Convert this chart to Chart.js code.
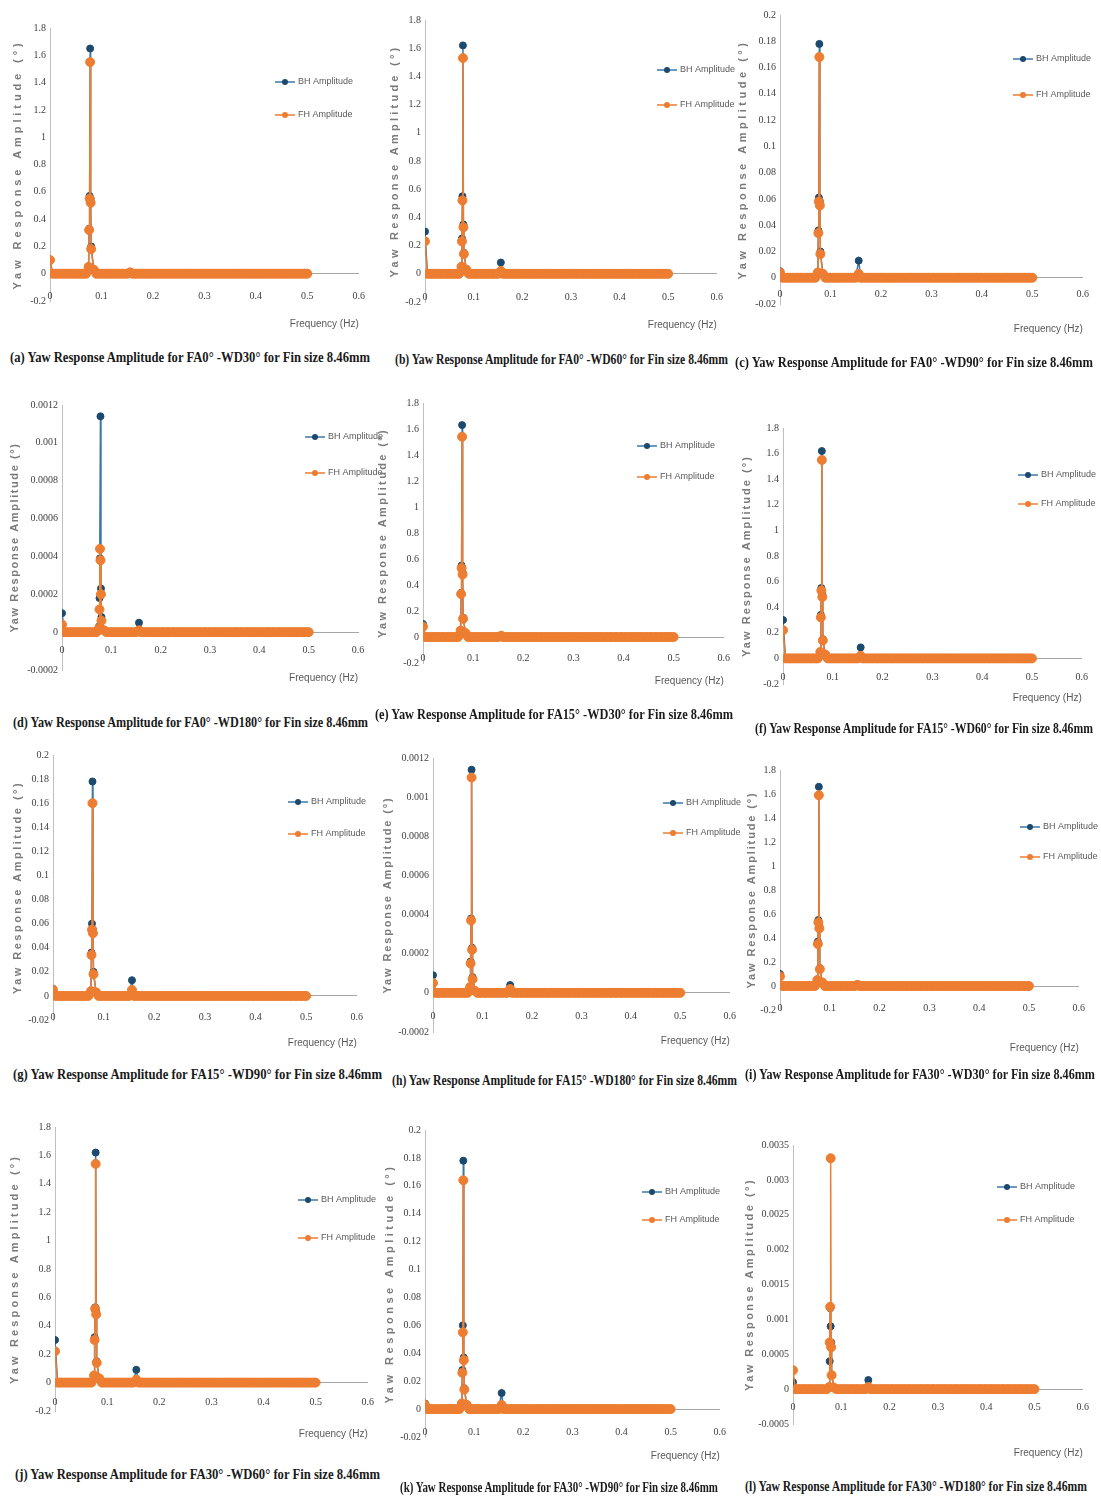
<!DOCTYPE html>
<html><head><meta charset="utf-8">
<script src="https://cdn.jsdelivr.net/npm/chart.js@4.4.1/dist/chart.umd.min.js"></script>
<style>
html,body{margin:0;padding:0;background:#fff;}
body{width:1101px;height:1499px;position:relative;overflow:hidden;}
canvas{position:absolute;}
.cap{position:absolute;white-space:nowrap;font-family:'Liberation Serif','Times New Roman',serif;font-weight:bold;font-size:15px;line-height:18px;color:#1a1a1a;transform-origin:0 50%;}
</style></head><body>
<script>
// ---------------- DATA ----------------
// Frequencies (Hz) of the resolved points around the resonance / harmonic
const peakFreq = [0, 0.075, 0.076, 0.077, 0.078, 0.079, 0.08, 0.085, 0.156];
// Frequencies (Hz) of the flat spectrum floor (amplitude ~ 0 at the picture's resolution)
const floorFreq = [
  0.005,0.01,0.015,0.02,0.025,0.03,0.035,0.04,0.045,0.05,0.055,0.06,0.065,0.07,
  0.09,0.095,0.1,0.105,0.11,0.115,0.12,0.125,0.13,0.135,0.14,0.145,0.15,
  0.16,0.165,0.17,0.175,0.18,0.185,0.19,0.195,0.2,0.205,0.21,0.215,0.22,0.225,0.23,0.235,0.24,0.245,0.25,0.255,
  0.26,0.265,0.27,0.275,0.28,0.285,0.29,0.295,0.3,0.305,0.31,0.315,0.32,0.325,0.33,0.335,0.34,
  0.345,0.35,0.355,0.36,0.365,0.37,0.375,0.38,0.385,0.39,0.395,0.4,0.405,0.41,0.415,0.42,0.425,0.43,0.435,0.44,
  0.445,0.45,0.455,0.46,0.465,0.47,0.475,0.48,0.485,0.49,0.495,0.5
];
const floorAmp = [
  0,0,0,0,0,0,0,0,0,0,0,0,
  0,0,0,0,0,0,0,0,0,0,0,0,
  0,0,0,0,0,0,0,0,0,0,0,0,
  0,0,0,0,0,0,0,0,0,0,0,0,
  0,0,0,0,0,0,0,0,0,0,0,0,
  0,0,0,0,0,0,0,0,0,0,0,0,
  0,0,0,0,0,0,0,0,0,0,0,0,
  0,0,0,0,0,0,0,0,0,0,0,0
];
// Peak-region amplitudes (°) at peakFreq, per panel
const aBH = [0.1, 0.05, 0.33, 0.57, 1.65, 0.55, 0.2, 0.03, 0.01];
const aFH = [0.1, 0.05, 0.32, 0.55, 1.55, 0.52, 0.18, 0.03, 0.01];
const bBH = [0.3, 0.05, 0.25, 0.55, 1.62, 0.35, 0.15, 0.03, 0.08];
const bFH = [0.23, 0.05, 0.23, 0.52, 1.53, 0.33, 0.14, 0.03, 0.02];
const cBH = [0.005, 0.004, 0.036, 0.061, 0.178, 0.058, 0.02, 0.003, 0.013];
const cFH = [0.004, 0.004, 0.034, 0.058, 0.168, 0.055, 0.018, 0.003, 0.003];
const dBH = [0.0001, 0.00003, 0.00018, 0.00039, 0.00114, 0.00023, 0.00008, 0.00001, 0.00005];
const dFH = [0.00004, 0.00002, 0.00012, 0.00044, 0.00038, 0.0002, 0.00006, 0.00001, 0.00001];
const eBH = [0.1, 0.05, 0.34, 0.55, 1.63, 0.5, 0.15, 0.03, 0.01];
const eFH = [0.08, 0.05, 0.33, 0.53, 1.54, 0.48, 0.14, 0.03, 0.01];
const fBH = [0.3, 0.05, 0.34, 0.55, 1.62, 0.5, 0.15, 0.03, 0.086];
const fFH = [0.22, 0.05, 0.32, 0.53, 1.55, 0.48, 0.14, 0.03, 0.02];
const gBH = [0.006, 0.004, 0.036, 0.06, 0.178, 0.055, 0.02, 0.003, 0.013];
const gFH = [0.005, 0.004, 0.034, 0.055, 0.16, 0.052, 0.018, 0.003, 0.005];
const hBH = [0.00009, 0.00003, 0.00016, 0.00038, 0.00114, 0.00023, 0.00008, 0.00001, 0.00004];
const hFH = [0.00005, 0.00003, 0.00015, 0.00037, 0.0011, 0.00022, 0.00007, 0.00001, 0.00002];
const iBH = [0.1, 0.05, 0.37, 0.55, 1.66, 0.5, 0.15, 0.03, 0.01];
const iFH = [0.08, 0.05, 0.35, 0.53, 1.59, 0.48, 0.14, 0.03, 0.01];
const jBH = [0.3, 0.05, 0.32, 0.53, 1.62, 0.5, 0.15, 0.03, 0.09];
const jFH = [0.22, 0.05, 0.3, 0.52, 1.54, 0.48, 0.14, 0.03, 0.02];
const kBH = [0.004, 0.004, 0.028, 0.06, 0.178, 0.037, 0.015, 0.003, 0.0115];
const kFH = [0.003, 0.004, 0.026, 0.055, 0.164, 0.035, 0.014, 0.003, 0.003];
const lBH = [0.0001, 0.00003, 0.0004, 0.00116, 0.0009, 0.00067, 0.0002, 0.00002, 0.00013];
const lFH = [0.00027, 0.00003, 0.00067, 0.00118, 0.00331, 0.0006, 0.0002, 0.00002, 0.00003];

const seriesLabels = ['BH Amplitude', 'FH Amplitude'];
const yMin  = [-0.2, -0.2, -0.02, -0.0002, -0.2, -0.2, -0.02, -0.0002, -0.2, -0.2, -0.02, -0.0005];
const yMax  = [1.8, 1.8, 0.2, 0.0012, 1.8, 1.8, 0.2, 0.0012, 1.8, 1.8, 0.2, 0.0035];
const yStep = [0.2, 0.2, 0.02, 0.0002, 0.2, 0.2, 0.02, 0.0002, 0.2, 0.2, 0.02, 0.0005];
const xMin = 0, xMax = 0.6, xStep = 0.1;
const yTitle = 'Yaw Response Amplitude (°)';
const xTitle = 'Frequency (Hz)';
const captions = [
  '(a) Yaw Response Amplitude for FA0° -WD30° for Fin size 8.46mm',
  '(b) Yaw Response Amplitude for FA0° -WD60° for Fin size 8.46mm',
  '(c) Yaw Response Amplitude for FA0° -WD90° for Fin size 8.46mm',
  '(d) Yaw Response Amplitude for FA0° -WD180° for Fin size 8.46mm',
  '(e) Yaw Response Amplitude for FA15° -WD30° for Fin size 8.46mm',
  '(f) Yaw Response Amplitude for FA15° -WD60° for Fin size 8.46mm',
  '(g) Yaw Response Amplitude for FA15° -WD90° for Fin size 8.46mm',
  '(h) Yaw Response Amplitude for FA15° -WD180° for Fin size 8.46mm',
  '(i) Yaw Response Amplitude for FA30° -WD30° for Fin size 8.46mm',
  '(j) Yaw Response Amplitude for FA30° -WD60° for Fin size 8.46mm',
  '(k) Yaw Response Amplitude for FA30° -WD90° for Fin size 8.46mm',
  '(l) Yaw Response Amplitude for FA30° -WD180° for Fin size 8.46mm'
];
const panelSeries = [[aBH,aFH],[bBH,bFH],[cBH,cFH],[dBH,dFH],[eBH,eFH],[fBH,fFH],
                     [gBH,gFH],[hBH,hFH],[iBH,iFH],[jBH,jFH],[kBH,kFH],[lBH,lFH]];

// ---------------- LAYOUT (page pixels) ----------------
const layout = [
  {L:50,  R:368,  T:28,   B:301,  tx:18,  tlen:250, fy:323,  tp:17, lx:275,  ly:[82,115],    cap:[10,370,357]},
  {L:425, R:719,  T:20,   B:302,  tx:395, tlen:233, fy:324,  tp:18, lx:657,  ly:[70,105],    cap:[395,728,359]},
  {L:780, R:1086, T:15,   B:304,  tx:743, tlen:240, fy:328,  tp:11, lx:1013, ly:[59,95],     cap:[735,1093,362]},
  {L:62,  R:358,  T:405,  B:670,  tx:15,  tlen:190, fy:677,  tp:12, lx:305,  ly:[437,473],   cap:[13,368,722]},
  {L:423, R:731,  T:403,  B:663,  tx:383, tlen:210, fy:680,  tp:15, lx:637,  ly:[446,477],   cap:[375,733,714]},
  {L:783, R:1087, T:428,  B:684,  tx:747, tlen:202, fy:697,  tp:13, lx:1018, ly:[475,504],   cap:[755,1093,728]},
  {L:53,  R:364,  T:755,  B:1020, tx:18,  tlen:213, fy:1042, tp:15, lx:288,  ly:[802,834],   cap:[13,382,1074]},
  {L:433, R:740,  T:758,  B:1032, tx:388, tlen:197, fy:1040, tp:18, lx:663,  ly:[803,833],   cap:[392,737,1080]},
  {L:780, R:1087, T:770,  B:1010, tx:752, tlen:197, fy:1047, tp:16, lx:1020, ly:[827,857],   cap:[745,1095,1074]},
  {L:55,  R:374,  T:1127, B:1411, tx:15,  tlen:230, fy:1433, tp:14, lx:298,  ly:[1200,1238], cap:[15,380,1474]},
  {L:425, R:729,  T:1130, B:1437, tx:390, tlen:240, fy:1455, tp:17, lx:642,  ly:[1192,1220], cap:[400,718,1487]},
  {L:793, R:1087, T:1145, B:1424, tx:750, tlen:213, fy:1452, tp:12, lx:997,  ly:[1187,1220], cap:[745,1087,1486]}
];

const BH_LINE = '#3a78a8', BH_MARK = '#1c4a6e', FH_COL = '#ed7d31';
const TITLE_FONT = {family: "'Liberation Sans', Arial, sans-serif", size: 11, weight: 'bold'};
const fmt = v => String(Math.round(v * 1e6) / 1e6);

function buildSeries(vals) {
  const pts = floorFreq.map((f, i) => ({x: f, y: floorAmp[i]}))
    .concat(peakFreq.map((f, i) => ({x: f, y: vals[i]})));
  return pts.sort((p, q) => p.x - q.x);
}

const panelDecor = {
  id: 'panelDecor',
  beforeDraw(chart, args, o) {
    const ctx = chart.ctx;
    ctx.save();
    ctx.font = `bold ${TITLE_FONT.size}px ${TITLE_FONT.family}`;
    const w = ctx.measureText(yTitle).width;
    ctx.restore();
    const s = Math.max(0, (o.tlen - w) / yTitle.length);
    ctx.letterSpacing = s.toFixed(2) + 'px';
  },
  beforeDatasetsDraw(chart) { chart.ctx.letterSpacing = '0px'; },
  afterDraw(chart, args, o) {
    const ctx = chart.ctx;
    ctx.save();
    ctx.letterSpacing = '0px';
    chart.data.datasets.forEach((ds, i) => {
      const x = o.x, y = o.ys[i];
      ctx.strokeStyle = ds.borderColor; ctx.lineWidth = 1.5;
      ctx.beginPath(); ctx.moveTo(x, y); ctx.lineTo(x + 20, y); ctx.stroke();
      ctx.fillStyle = ds.pointBackgroundColor;
      ctx.beginPath(); ctx.arc(x + 10, y, 3, 0, Math.PI * 2); ctx.fill();
      ctx.fillStyle = '#595959';
      ctx.font = "9px 'Liberation Sans', Arial, sans-serif";
      ctx.textBaseline = 'middle'; ctx.textAlign = 'left';
      ctx.fillText(ds.label, x + 23, y);
    });
    ctx.restore();
  }
};

layout.forEach((p, k) => {
  const padR = Math.max(14, Math.min(1101 - p.R, p.lx + 84 - p.R));
  const cl = Math.round(p.tx - 6.6);
  const ct = Math.round(p.T - 10);
  const cr = p.R + padR;
  const cb = Math.round(p.fy + 6.6);
  const padT = p.T - ct;
  const cv = document.createElement('canvas');
  cv.width = cr - cl; cv.height = cb - ct;
  cv.style.left = cl + 'px'; cv.style.top = ct + 'px';
  document.body.appendChild(cv);
  const yw = p.L - cl;
  const xh = cb - p.B;
  const [bh, fh] = panelSeries[k];
  new Chart(cv, {
    type: 'line',
    data: {datasets: [
      {label: seriesLabels[0], data: buildSeries(bh), xAxisID: 'x', yAxisID: 'y',
       borderColor: BH_LINE, backgroundColor: BH_MARK, pointBackgroundColor: BH_MARK, pointBorderColor: BH_MARK,
       pointRadius: 3.5, pointBorderWidth: 1, borderWidth: 1.5, tension: 0, order: 2},
      {label: seriesLabels[1], data: buildSeries(fh), xAxisID: 'x', yAxisID: 'y',
       borderColor: FH_COL, backgroundColor: FH_COL, pointBackgroundColor: FH_COL, pointBorderColor: FH_COL,
       pointRadius: 4.5, pointBorderWidth: 1, borderWidth: 1.5, tension: 0, order: 1}
    ]},
    options: {
      responsive: false, animation: false, devicePixelRatio: 1,
      layout: {padding: {top: padT, right: padR, left: 0, bottom: 0}},
      plugins: {legend: {display: false}, tooltip: {enabled: false},
                panelDecor: {x: p.lx - cl, ys: [p.ly[0] - ct, p.ly[1] - ct], tlen: p.tlen}},
      scales: {
        x: {type: 'linear', position: {y: 0}, min: xMin, max: xMax,
            ticks: {stepSize: xStep, callback: fmt, padding: p.tp, z: 1, maxRotation: 0,
                    color: '#404040', font: {family: "'Liberation Serif', serif", size: 10}},
            grid: {display: false, drawTicks: false},
            border: {display: true, color: '#a6a6a6', width: 1},
            afterFit: s => { s.height = 0; }},
        x2: {type: 'linear', position: 'bottom', min: xMin, max: xMax, display: true,
             ticks: {display: false}, grid: {display: false, drawTicks: false, z: 0.5},
             border: {display: false},
             title: {display: true, text: xTitle, align: 'end', padding: 0, color: '#595959',
                     font: {family: "'Liberation Sans', Arial, sans-serif", size: 10}},
             afterFit: s => { s.height = xh; }},
        y: {type: 'linear', position: 'left', min: yMin[k], max: yMax[k],
            ticks: {stepSize: yStep[k], callback: fmt, padding: 4, z: 1,
                    color: '#404040', font: {family: "'Liberation Serif', serif", size: 10}},
            grid: {display: false, drawTicks: false},
            border: {display: true, color: '#bfbfbf', width: 1},
            title: {display: true, text: yTitle, padding: 0, color: '#7a7a7a', font: TITLE_FONT},
            afterFit: s => { s.width = yw; }}
      }
    },
    plugins: [panelDecor]
  });

  const d = document.createElement('div');
  d.className = 'cap';
  d.textContent = captions[k];
  d.style.left = p.cap[0] + 'px';
  d.style.top = (p.cap[2] - 9) + 'px';
  document.body.appendChild(d);
  const w = d.getBoundingClientRect().width;
  d.style.transform = `scaleX(${((p.cap[1] - p.cap[0]) / w).toFixed(4)})`;
});
</script>
</body></html>
